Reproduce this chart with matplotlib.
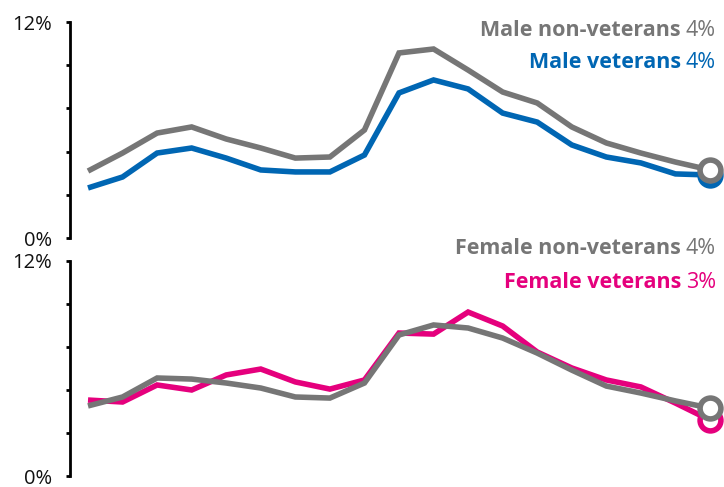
import matplotlib
matplotlib.use("Agg")
import matplotlib.pyplot as plt
import numpy as np

plt.rcParams['font.family'] = ['Open Sans', 'DejaVu Sans']

periods = list(range(19))
male_nonvet = [3.72, 4.72, 5.83, 6.17, 5.5, 5.0, 4.44, 4.5, 6.0, 10.28, 10.5, 9.33, 8.11, 7.5, 6.17, 5.28, 4.72, 4.22, 3.78]
male_vet = [2.78, 3.39, 4.72, 5.0, 4.44, 3.78, 3.67, 3.67, 4.61, 8.06, 8.78, 8.28, 6.94, 6.44, 5.17, 4.5, 4.17, 3.56, 3.5]
female_nonvet = [3.91, 4.41, 5.47, 5.41, 5.19, 4.91, 4.41, 4.35, 5.19, 7.87, 8.43, 8.26, 7.70, 6.86, 5.91, 5.02, 4.63, 4.19, 3.79]
female_vet = [4.24, 4.13, 5.08, 4.80, 5.64, 5.97, 5.25, 4.85, 5.36, 7.98, 7.92, 9.15, 8.37, 6.92, 6.03, 5.36, 4.97, 4.07, 3.12]

GRAY = '#767676'
BLUE = '#0066b3'
PINK = '#e5007d'

W, H = 724, 487
fig = plt.figure(figsize=(W / 100, H / 100), dpi=100)

def make_ax(top_px, bottom_px):
    return fig.add_axes([70 / W, (H - bottom_px) / H, (W - 70) / W, (bottom_px - top_px) / H])

ax1 = make_ax(22, 238)
ax2 = make_ax(261, 476)

xmin = -18 / 34.56
xmax = 18 + 14 / 34.56

def style(ax):
    ax.set_xlim(xmin, xmax)
    ax.set_ylim(0, 12)
    for s in ['top', 'right', 'bottom']:
        ax.spines[s].set_visible(False)
    ax.spines['left'].set_linewidth(2)
    ax.spines['left'].set_color('black')
    ax.set_xticks([])
    ticks = [0, 2.4, 4.8, 7.2, 9.6, 12]
    ax.set_yticks(ticks)
    ax.set_yticklabels(['0%', '', '', '', '', '12%'], fontsize=14.5, color='#111111')
    ax.tick_params(axis='y', direction='out', length=3, width=2, pad=10)
    ax.patch.set_alpha(0)

def draw(ax, series, color):
    ax.plot(periods, series, color=color, lw=4, solid_joinstyle='miter', solid_capstyle='butt', zorder=3)
    ax.plot(periods[-1], series[-1], 'o', ms=15, mfc='white', mec=color, mew=4, clip_on=False, zorder=4)

style(ax1)
style(ax2)

draw(ax1, male_vet, BLUE)
draw(ax1, male_nonvet, GRAY)
draw(ax2, female_vet, PINK)
draw(ax2, female_nonvet, GRAY)

def label(y_px, name, pct, color):
    t = fig.text(716 / W, (H - y_px) / H, pct, ha='right', va='center', fontsize=15.5,
                 color=color, fontweight='normal')
    fig.canvas.draw()
    bb = t.get_window_extent()
    fig.text((bb.x0 - 5) / W, (H - y_px) / H, name, ha='right', va='center', fontsize=15.5,
             color=color, fontweight='bold')

label(30, 'Male non-veterans', '4%', GRAY)
label(62, 'Male veterans', '4%', BLUE)
label(248, 'Female non-veterans', '4%', GRAY)
label(283, 'Female veterans', '3%', PINK)

fig.savefig('out.png', dpi=100)
